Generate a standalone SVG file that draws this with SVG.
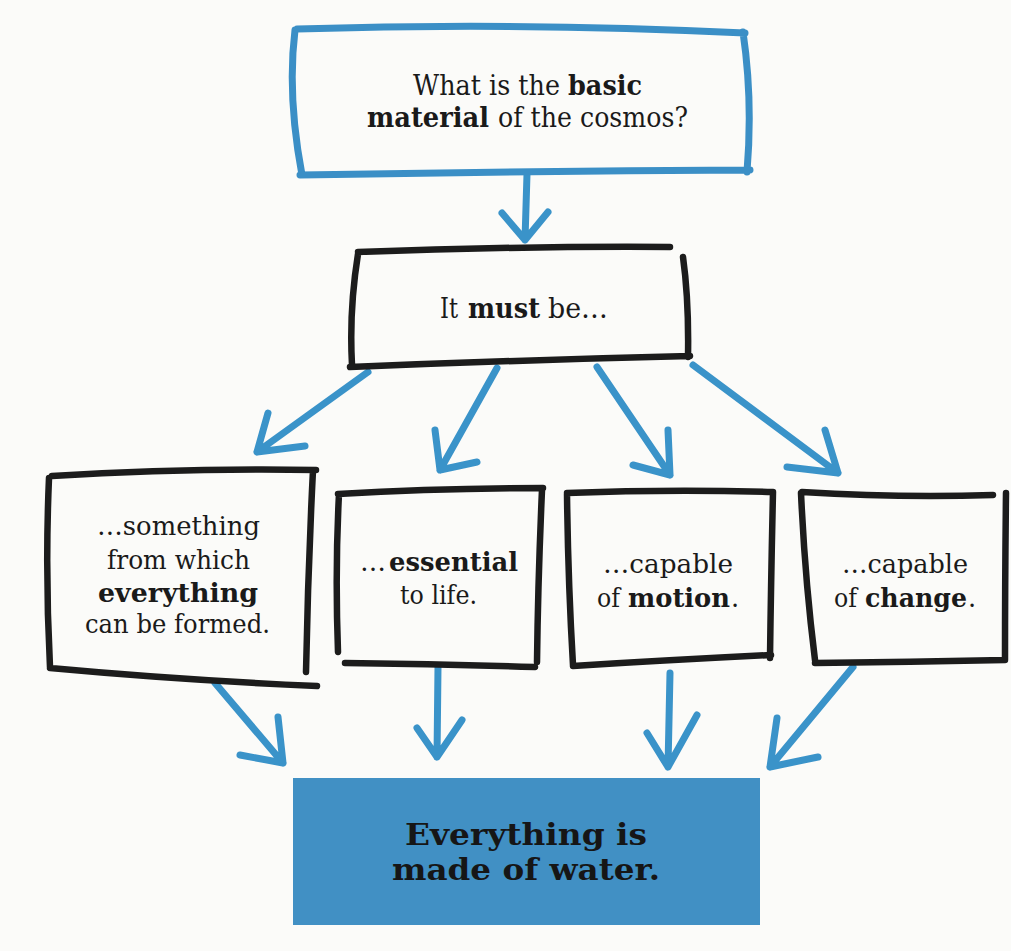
<svg xmlns="http://www.w3.org/2000/svg" width="1011" height="951" viewBox="0 0 1011 951">
<style>
.bg{fill:#fbfbf9}
.blue{fill:none;stroke:#3b8fc6;stroke-width:7;stroke-linecap:round;stroke-linejoin:round}
.ink{fill:none;stroke:#1c1c1c;stroke-width:6.5;stroke-linecap:round;stroke-linejoin:round}
.arrow{fill:none;stroke:#3a93c9;stroke-width:7;stroke-linecap:round;stroke-linejoin:round}
.t{font-family:"DejaVu Serif","Liberation Serif",serif;fill:#1a1a1a;text-anchor:middle}
.s{font-family:"DejaVu Serif","Liberation Serif",serif;fill:#1a1a1a;text-anchor:start}
.big{font-size:27px}
.med{font-size:25.5px}
.b{font-weight:bold}
.res{fill:#4190c4}
.rt{font-family:"DejaVu Serif","Liberation Serif",serif;font-weight:bold;font-size:29.5px;fill:#161616;text-anchor:middle}
</style>
<rect class="bg" x="0" y="0" width="1011" height="951"/>

<g id="connectors">
  <path class="arrow" d="M527,174 L525,240 M502,213 L525,240 L548,212"/>
  <path class="arrow" d="M368,372 L257,452 M268,413 L257,452 L305,446"/>
  <path class="arrow" d="M497,368 L440,470 M435,430 L440,470 L477,462"/>
  <path class="arrow" d="M597,367 L670,475 M668,430 L670,475 L633,465"/>
  <path class="arrow" d="M693,365 L838,473 M825,430 L838,473 L787,467"/>
  <path class="arrow" d="M215,683 L283,763 M278,717 L283,763 L240,755"/>
  <path class="arrow" d="M438,667 L437,757 M417,728 L437,757 L462,720"/>
  <path class="arrow" d="M670,673 L668,767 M647,733 L668,767 L697,715"/>
  <path class="arrow" d="M853,667 L770,767 M777,718 L770,767 L818,757"/>
</g>

<g id="question">
  <path class="blue" d="M295,30 Q287,95 302,175 M297,29 Q520,22 745,33 M743,32 Q753,100 747,172 M300,175 Q520,171 750,170"/>
  <text class="s big" x="413" y="95" textLength="147" lengthAdjust="spacingAndGlyphs">What is the</text>
  <text class="s big b" x="568" y="95" textLength="74" lengthAdjust="spacingAndGlyphs">basic</text>
  <text class="s big b" x="367" y="127" textLength="122" lengthAdjust="spacingAndGlyphs">material</text>
  <text class="s big" x="498" y="127" textLength="190" lengthAdjust="spacingAndGlyphs">of the cosmos?</text>
</g>

<g id="must">
  <path class="ink" d="M358,252 Q520,246 670,247 M683,257 Q689,300 688,357 M350,367 Q520,360 690,356 M358,254 Q349,310 352,365"/>
  <text class="s big" x="440" y="318" textLength="18" lengthAdjust="spacingAndGlyphs">It</text>
  <text class="s big b" x="468" y="318" textLength="72" lengthAdjust="spacingAndGlyphs">must</text>
  <text class="s big" x="548" y="318" textLength="60" lengthAdjust="spacingAndGlyphs">be…</text>
</g>

<g id="formed">
  <path class="ink" d="M52,476 Q180,468 316,470 M313,470 Q308,570 306,672 M50,668 Q180,680 317,686 M49,478 Q45,570 50,667"/>
  <text class="t med" x="178.5" y="535" textLength="163" lengthAdjust="spacingAndGlyphs">…something</text>
  <text class="t med" x="178.5" y="569" textLength="143" lengthAdjust="spacingAndGlyphs">from which</text>
  <text class="t med b" x="178" y="602" textLength="160" lengthAdjust="spacingAndGlyphs">everything</text>
  <text class="t med" x="177.5" y="633" textLength="185" lengthAdjust="spacingAndGlyphs">can be formed.</text>
</g>

<g id="essential">
  <path class="ink" d="M338,494 Q440,488 543,488 M542,490 Q538,580 537,662 M345,663 Q440,664 535,667 M339,494 Q335,570 338,652"/>
  <text class="s med" x="360" y="571" textLength="26" lengthAdjust="spacingAndGlyphs">…</text>
  <text class="s med b" x="389" y="571" textLength="129" lengthAdjust="spacingAndGlyphs">essential</text>
  <text class="t med" x="438.5" y="604" textLength="77" lengthAdjust="spacingAndGlyphs">to life.</text>
</g>

<g id="motion">
  <path class="ink" d="M567,493 Q670,489 773,492 M773,492 Q771,580 770,658 M573,666 Q670,660 771,655 M567,494 Q568,580 573,665"/>
  <text class="t med" x="668" y="573" textLength="130" lengthAdjust="spacingAndGlyphs">…capable</text>
  <text class="s med" x="597" y="607" textLength="23" lengthAdjust="spacingAndGlyphs">of</text>
  <text class="s med b" x="628" y="607" textLength="102" lengthAdjust="spacingAndGlyphs">motion</text>
  <text class="s med" x="731" y="607">.</text>
</g>

<g id="change">
  <path class="ink" d="M802,492 Q900,498 993,495 M1006,493 Q1005,580 1005,660 M815,663 Q910,662 1005,660 M801,493 Q805,580 815,660"/>
  <text class="t med" x="905" y="573" textLength="126" lengthAdjust="spacingAndGlyphs">…capable</text>
  <text class="s med" x="834" y="607" textLength="23" lengthAdjust="spacingAndGlyphs">of</text>
  <text class="s med b" x="865" y="607" textLength="102" lengthAdjust="spacingAndGlyphs">change</text>
  <text class="s med" x="968" y="607">.</text>
</g>

<g id="water">
  <rect class="res" x="293" y="778" width="467" height="147"/>
  <text class="rt" x="526" y="845" textLength="242" lengthAdjust="spacingAndGlyphs">Everything is</text>
  <text class="rt" x="526" y="880" textLength="268" lengthAdjust="spacingAndGlyphs">made of water.</text>
</g>
</svg>
